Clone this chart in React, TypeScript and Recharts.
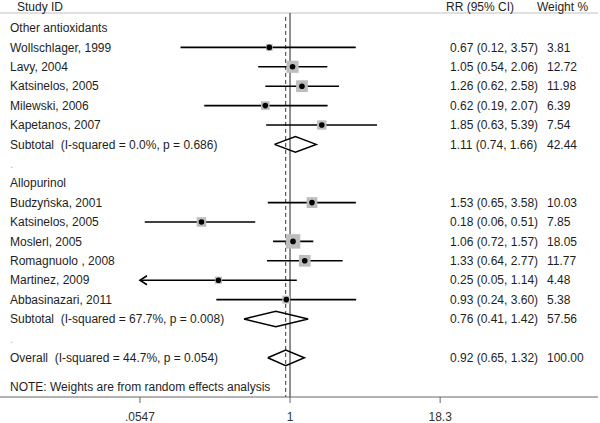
import React from "react";
import { ComposedChart, XAxis, YAxis, Line, Scatter, ReferenceLine } from "recharts";

// forest plot: RR by study, random effects

const headers = ["Study ID", "RR (95% CI)", "Weight %"];
const groupNames = ["Other antioxidants", "Allopurinol"];

const studyNames = [
  "Wollschlager, 1999",
  "Lavy, 2004",
  "Katsinelos, 2005",
  "Milewski, 2006",
  "Kapetanos, 2007",
  "Budzyńska, 2001",
  "Katsinelos, 2005",
  "Moslerl, 2005",
  "Romagnuolo , 2008",
  "Martinez, 2009",
  "Abbasinazari, 2011",
];
const studyGroup = [0, 0, 0, 0, 0, 1, 1, 1, 1, 1, 1];
const rr = [0.67, 1.05, 1.26, 0.62, 1.85, 1.53, 0.18, 1.06, 1.33, 0.25, 0.93];
const ciLow = [0.12, 0.54, 0.62, 0.19, 0.63, 0.65, 0.06, 0.72, 0.64, 0.05, 0.24];
const ciHigh = [3.57, 2.06, 2.58, 2.07, 5.39, 3.58, 0.51, 1.57, 2.77, 1.14, 3.6];
const weights = [3.81, 12.72, 11.98, 6.39, 7.54, 10.03, 7.85, 18.05, 11.77, 4.48, 5.38];

const subtotalLabels = [
  "Subtotal  (I-squared = 0.0%, p = 0.686)",
  "Subtotal  (I-squared = 67.7%, p = 0.008)",
];
const subtotalRR = [1.11, 0.76];
const subtotalLow = [0.74, 0.41];
const subtotalHigh = [1.66, 1.42];
const subtotalWeight = [42.44, 57.56];

const overallLabel = "Overall  (I-squared = 44.7%, p = 0.054)";
const overallRR = 0.92;
const overallLow = 0.65;
const overallHigh = 1.32;
const overallWeight = 100;

const noteText = "NOTE: Weights are from random effects analysis";

const axisTicks = [0.0547, 1, 18.3];
const axisTickLabels = [".0547", "1", "18.3"];

// layout
const W = 600;
const H = 423;
const FONT = "'Liberation Sans', Arial, sans-serif";
const TEXT = "#1e1e1e";
const X_DOMAIN: [number, number] = [0.00364, 389];
const Y_DOMAIN: [number, number] = [-0.443, 20.02];
const DIAMOND_H = 0.4;

type Row = {
  y: number;
  label: string;
  kind: "header" | "group" | "study" | "sub" | "blank" | "overall" | "note";
  rr?: number;
  lo?: number;
  hi?: number;
  w?: number;
};

const rows: Row[] = [{ y: -0.1, label: headers[0], kind: "header" }];
let r = 1;
groupNames.forEach((g, gi) => {
  rows.push({ y: r++, label: g, kind: "group" });
  studyNames.forEach((n, i) => {
    if (studyGroup[i] === gi)
      rows.push({ y: r++, label: n, kind: "study", rr: rr[i], lo: ciLow[i], hi: ciHigh[i], w: weights[i] });
  });
  rows.push({
    y: r++, label: subtotalLabels[gi], kind: "sub",
    rr: subtotalRR[gi], lo: subtotalLow[gi], hi: subtotalHigh[gi], w: subtotalWeight[gi],
  });
  rows.push({ y: r++, label: ".", kind: "blank" });
});
rows.push({ y: r++, label: overallLabel, kind: "overall", rr: overallRR, lo: overallLow, hi: overallHigh, w: overallWeight });
rows.push({ y: r + 0.5, label: noteText, kind: "note" });

const studyRows = rows.filter(row => row.kind === "study");
const diamondRows = rows.filter(row => row.kind === "sub" || row.kind === "overall");

const clipMin = axisTicks[0];
const clipMax = axisTicks[axisTicks.length - 1];

// text columns, one per row; y comes from the row's scaled position
function RowText(props: any) {
  const { cy, payload } = props;
  const row: Row = payload.row;
  const common = {
    y: cy, dy: "0.35em", fontSize: 12, fontFamily: FONT, fill: TEXT,
    style: { whiteSpace: "pre" as const },
  };
  if (row.kind === "header") {
    return (
      <g>
        <text {...common} x={17}>{headers[0]}</text>
        <text {...common} x={446}>{headers[1]}</text>
        <text {...common} x={537}>{headers[2]}</text>
      </g>
    );
  }
  return (
    <g>
      <text {...common} x={10} fill={row.kind === "blank" ? "#bbb" : TEXT}>{row.label}</text>
      {row.rr !== undefined && (
        <>
          <text {...common} x={450}>
            {`${row.rr.toFixed(2)} (${row.lo!.toFixed(2)}, ${row.hi!.toFixed(2)})`}
          </text>
          <text {...common} x={547}>{row.w!.toFixed(2)}</text>
        </>
      )}
    </g>
  );
}

function ArrowDot(props: any) {
  const { cx, cy, payload } = props;
  if (!payload || !payload.clip) return <g />;
  const d = payload.clip === "left" ? 7 : -7;
  return (
    <polyline
      points={`${cx + d},${cy - 4.5} ${cx},${cy} ${cx + d},${cy + 4.5}`}
      fill="none"
      stroke="#000"
      strokeWidth={1.6}
    />
  );
}

function SquareShape(props: any) {
  const { cx, cy, payload } = props;
  const s = 3.4 * Math.sqrt(payload.w);
  return <rect x={cx - s / 2} y={cy - s / 2} width={s} height={s} fill="#bdbdbd" />;
}

function DotShape(props: any) {
  const { cx, cy } = props;
  return <circle cx={cx} cy={cy} r={2.8} fill="#000" />;
}

export default function App() {
  const pointData = studyRows.map(row => ({ x: row.rr, y: row.y, w: row.w }));
  const textData = rows.map(row => ({ x: 1, y: row.y, row }));
  return (
    <div style={{ position: "absolute", left: 0, top: 0, width: W, height: H, background: "#fff" }}>
      <ComposedChart width={W} height={H} margin={{ top: 0, right: 2, bottom: 0, left: 0 }}>
        <XAxis
          type="number"
          dataKey="x"
          scale="log"
          domain={X_DOMAIN}
          allowDataOverflow
          ticks={axisTicks}
          interval={0}
          tickFormatter={(v: number) => axisTickLabels[axisTicks.indexOf(v)] ?? ""}
          height={26}
          tickSize={6}
          tickMargin={9}
          axisLine={{ stroke: "#666" }}
          tickLine={{ stroke: "#666" }}
          tick={{ fontSize: 12, fontFamily: FONT, fill: "#333" }}
        />
        <YAxis type="number" dataKey="y" domain={Y_DOMAIN} reversed allowDataOverflow hide />

        <ReferenceLine y={0.227} stroke="#d6d6d6" strokeWidth={1.5} />
        <ReferenceLine
          segment={[{ x: 1, y: 0.227 }, { x: 1, y: Y_DOMAIN[1] }]}
          stroke="#222"
          strokeWidth={1}
        />
        <ReferenceLine
          segment={[{ x: overallRR, y: 0.43 }, { x: overallRR, y: Y_DOMAIN[1] }]}
          stroke="#333"
          strokeWidth={1}
          strokeDasharray="4 3"
        />

        <Scatter data={textData} shape={RowText} isAnimationActive={false} />

        <Scatter data={pointData} shape={SquareShape} isAnimationActive={false} />

        {studyRows.map((row, i) => (
          <Line
            key={"ci" + i}
            data={[
              { x: Math.max(row.lo!, clipMin), y: row.y, clip: row.lo! < clipMin ? "left" : "" },
              { x: Math.min(row.hi!, clipMax), y: row.y, clip: row.hi! > clipMax ? "right" : "" },
            ]}
            dataKey="y"
            type="linear"
            stroke="#000"
            strokeWidth={1.6}
            dot={<ArrowDot />}
            activeDot={false}
            isAnimationActive={false}
          />
        ))}

        {diamondRows.map((row, i) => (
          <Line
            key={"dm" + i}
            data={[
              { x: row.lo, y: row.y },
              { x: row.rr, y: row.y - DIAMOND_H },
              { x: row.hi, y: row.y },
              { x: row.rr, y: row.y + DIAMOND_H },
              { x: row.lo, y: row.y },
            ]}
            dataKey="y"
            type="linear"
            stroke="#000"
            strokeWidth={1.5}
            dot={false}
            activeDot={false}
            isAnimationActive={false}
          />
        ))}

        <Scatter data={pointData} shape={DotShape} isAnimationActive={false} />
      </ComposedChart>
    </div>
  );
}
